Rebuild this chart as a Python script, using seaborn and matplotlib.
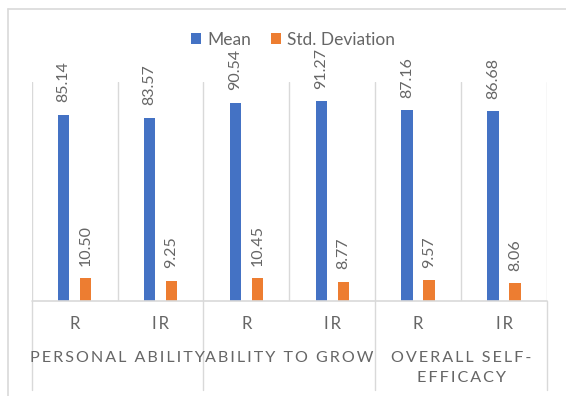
import matplotlib
matplotlib.use("Agg")
import matplotlib.pyplot as plt
from matplotlib.lines import Line2D
from matplotlib.patches import Patch
import seaborn as sns
import pandas as pd

groups = ["PERSONAL ABILITY", "ABILITY TO GROW", "OVERALL SELF-\nEFFICACY"]
subs = ["R", "IR"]
mean_vals = [85.14, 83.57, 90.54, 91.27, 87.16, 86.68]
std_vals = [10.50, 9.25, 10.45, 8.77, 9.57, 8.06]
series = ["Mean", "Std. Deviation"]

BLUE = "#4472C4"
ORANGE = "#ED7D31"
GRID = "#d9d9d9"
TXT = "#666666"

sns.set_theme(style="white")
plt.rcParams["font.family"] = ["Lato", "DejaVu Sans"]

keys = [f"{g}|{s}" for g in groups for s in subs]
df = pd.DataFrame({
    "key": keys * 2,
    "stat": [series[0]] * len(keys) + [series[1]] * len(keys),
    "value": mean_vals + std_vals,
})

W, H = 566, 396
fig = plt.figure(figsize=(W / 100, H / 100), dpi=100)
x0, x1, ytop, ybase = 31.7, 547.0, 82.0, 301.0
ax = fig.add_axes([x0 / W, 1 - ybase / H, (x1 - x0) / W, (ybase - ytop) / H])

sns.barplot(data=df, x="key", y="value", hue="stat", order=keys,
            hue_order=series, palette=[BLUE, ORANGE], saturation=1,
            width=0.512, gap=0.477, errorbar=None, legend=False,
            linewidth=0, ax=ax)

ax.set_ylim(0, 100)
ax.set_xlim(-0.5, len(keys) - 0.5)
for s in ax.spines.values():
    s.set_visible(False)
ax.set_xticks([])
ax.set_yticks([])
ax.set_xlabel("")
ax.set_ylabel("")

for c in ax.containers:
    ax.bar_label(c, fmt="%.2f", rotation=90, padding=9, color=TXT,
                 fontsize=11.5)

# gridlines between categories
for i in range(len(keys) + 1):
    ax.axvline(i - 0.5, color=GRID, lw=1, zorder=0)
ax.axhline(0, color=GRID, lw=1.2, zorder=3, clip_on=False)

# group separators below axis
axh = ybase - ytop
for gi in range(len(groups) + 1):
    xx = gi * 2 - 0.5
    ax.plot([xx, xx], [0, -89 / axh], transform=ax.get_xaxis_transform(),
            color=GRID, lw=1, clip_on=False)

def spaced(s, n=2):
    return ("\u200a" * n).join(s)

tr = ax.get_xaxis_transform()
for i, k in enumerate(keys):
    sub = k.split("|")[1]
    ax.annotate(spaced(sub), xy=(i, 0), xycoords=tr, xytext=(0, -23 * 0.72),
                textcoords="offset points", ha="center", va="center",
                color=TXT, fontsize=12)
for gi, g in enumerate(groups):
    lines = g.split("\n")
    for li, line in enumerate(lines):
        ax.annotate(spaced(line), xy=(gi * 2 + 0.5, 0), xycoords=tr,
                    xytext=(0, -(57 + 20 * li) * 0.72),
                    textcoords="offset points", ha="center", va="center",
                    color=TXT, fontsize=11.6)

handles = [Patch(facecolor=BLUE, edgecolor="none"),
           Patch(facecolor=ORANGE, edgecolor="none")]
fig.legend(handles, series, loc="center", bbox_to_anchor=(293 / W, 1 - 40 / H),
           ncol=2, frameon=False, fontsize=12.5, handlelength=0.575,
           handleheight=0.575, handletextpad=0.35, columnspacing=1.15,
           labelcolor=TXT)

# chart frame
fig.add_artist(Line2D([8 / W, 8 / W], [0, 1 - 9 / H], transform=fig.transFigure,
                      color=GRID, lw=1.2))
fig.add_artist(Line2D([8 / W, 1], [1 - 9 / H, 1 - 9 / H], transform=fig.transFigure,
                      color=GRID, lw=1.2))

fig.savefig("out.png", dpi=100)
